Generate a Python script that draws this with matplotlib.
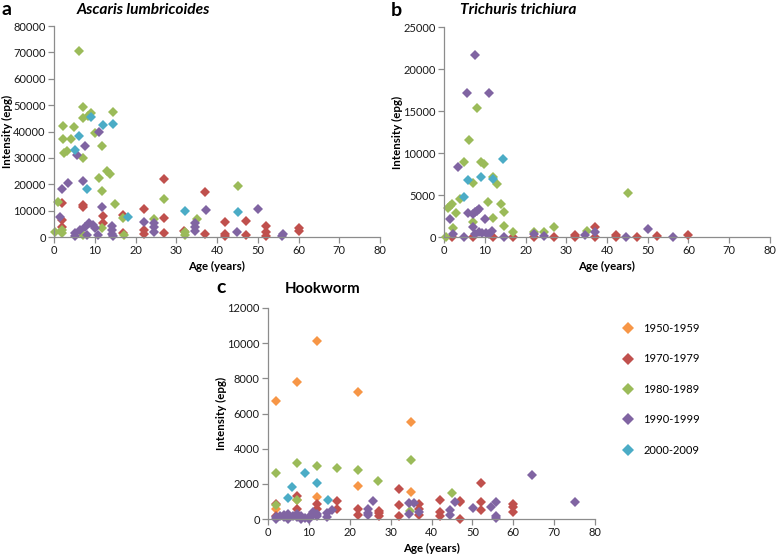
import matplotlib
matplotlib.use("Agg")
import matplotlib.pyplot as plt
from matplotlib.lines import Line2D

plt.rcParams['font.family'] = ['Lato', 'DejaVu Sans']

W, H = 778, 558

# ---------------- data ----------------
decades = ["1950-1959", "1970-1979", "1980-1989", "1990-1999", "2000-2009"]
colors = ["#F79646", "#C0504D", "#9BBB59", "#8064A2", "#4BACC6"]

# Panel a: Ascaris lumbricoides
asc_1970_age = [2, 2, 2, 7, 7, 12, 12, 17, 17, 22, 22, 22, 27, 27, 27, 32, 37, 37, 42, 42, 42, 47, 47, 52, 52, 52, 60, 60]
asc_1970_int = [13000, 6400, 3900, 12100, 11300, 8000, 5400, 8500, 1400, 10600, 2700, 1100, 21900, 7300, 1600, 2300,
                16900, 1100, 5800, 1100, 300, 6200, 600, 4200, 2000, 400, 3300, 2400]
asc_1980_age = [6.1, 7.1, 7.1, 8.3, 9.2, 14.6, 2.1, 4.9, 2.1, 4.1, 2.5, 3.1, 7.0, 11.9, 10.1, 11.1, 13.1, 13.7,
                11.9, 15.0, 1.1, 0.2, 1.9, 17.0, 11.9, 17.2, 7.1, 27.1, 32.2, 32.2, 35.2, 45.2, 24.6, 2.0]
asc_1980_int = [70500, 49100, 45000, 46000, 47000, 47300, 42100, 41800, 37000, 37300, 31700, 32700, 29800, 34500,
                39500, 22200, 25000, 23900, 17600, 12500, 13400, 2000, 2700, 7100, 3300, 800, 600, 14300, 2000,
                600, 6700, 19500, 6800, 1600]
asc_1990_age = [11.1, 7.6, 5.6, 7.0, 3.5, 1.9, 1.5, 11.9, 5.2, 5.2, 6.4, 7.6, 8.7, 9.5, 10.1, 10.9, 8.0,
                14.2, 14.2, 14.2, 14.4, 22.1, 24.6, 24.6, 24.6, 34.6, 34.6, 34.6, 37.2, 44.8, 50.1, 56.3, 56.0]
asc_1990_int = [39900, 34500, 31100, 21200, 20600, 18200, 7500, 11300, 1400, 400, 2700, 3900, 5200, 4500,
                3300, 800, 900, 4200, 2700, 1100, 400, 5600, 5400, 3700, 2000, 5400, 3900, 2400, 10200, 2000,
                10500, 1100, 400]
asc_2000_age = [9.0, 12.1, 14.4, 6.1, 5.2, 8.2, 18.2, 32.2, 45.2]
asc_2000_int = [45400, 42500, 42800, 38300, 33000, 18200, 7700, 10000, 9400]

# Panel b: Trichuris trichiura
tri_1970_age = [1.9, 7.0, 12.0, 17.0, 22.0, 27.0, 32.1, 32.1, 37.1, 37.1, 42.2, 42.2, 47.3, 52.2, 60.0]
tri_1970_int = [0, 0, 0, 0, 0, 40, 240, 0, 1150, 0, 240, 0, 0, 60, 240]
tri_1980_age = [8.2, 6.1, 4.9, 9.0, 9.8, 12.0, 13.1, 7.0, 3.9, 1.0, 1.5, 1.9, 10.9, 13.9, 14.7, 2.9, 12.1,
                7.0, 14.8, 2.1, 17.0, 22.2, 24.6, 27.0, 35.2, 45.1, 0.4]
tri_1980_int = [15300, 11600, 8960, 8960, 8690, 7100, 6270, 6390, 4490, 3400, 3700, 3950, 4200, 3890, 3010,
                2890, 2220, 1820, 1310, 1030, 630, 630, 630, 1150, 750, 5280, 0]
tri_1990_age = [7.6, 5.6, 11.0, 3.5, 1.5, 6.0, 7.1, 7.7, 8.1, 8.6, 10.1, 7.0, 2.1, 4.9, 7.7, 8.5, 9.3, 10.3,
                11.1, 11.8, 14.7, 22.2, 24.5, 34.6, 37.1, 44.7, 50.1, 56.3]
tri_1990_int = [21700, 17200, 17200, 8370, 2100, 2820, 2700, 2950, 3100, 3300, 2100, 1150, 300, 0, 400, 600,
                500, 450, 300, 700, 0, 300, 100, 240, 630, 40, 910, 0]
tri_2000_age = [14.4, 6.0, 9.1, 12.0, 4.9]
tri_2000_int = [9250, 6790, 7100, 6870, 4730]

# Panel c: Hookworm
hook_1950_age = [2.0, 7.0, 12.0, 22.0, 22.0, 35.0, 35.0, 12.0, 7.0, 2.0]
hook_1950_int = [6690, 7790, 10100, 7200, 1880, 5500, 1550, 1270, 1100, 550]
hook_1970_age = [2.0, 2.0, 7.0, 7.0, 12.0, 12.0, 17.0, 17.0, 22.0, 22.0, 27.2, 27.2, 27.2, 32.1, 32.1, 32.1,
                 37.0, 37.0, 37.0, 42.1, 42.1, 42.1, 47.0, 47.0, 47.0, 52.1, 52.1, 52.1, 60.0, 60.0, 60.0]
hook_1970_int = [835, 150, 1300, 550, 835, 570, 1040, 550, 550, 200, 360, 170, 450, 1690, 800, 170,
                 850, 550, 230, 1080, 420, 170, 1040, 950, 0, 2070, 950, 540, 830, 700, 420]
hook_1980_age = [2.0, 7.0, 12.1, 17.0, 21.9, 26.8, 35.0, 44.9, 2.0, 7.0, 34.8]
hook_1980_int = [2640, 3170, 3030, 2880, 2790, 2180, 3340, 1460, 800, 1100, 440]
hook_1990_age = [2.0, 2.0, 3.0, 4.0, 4.0, 5.0, 5.0, 6.0, 7.0, 7.0, 8.0, 8.0, 9.0, 10.0, 10.0, 11.0, 11.0,
                 12.0, 12.0, 14.4, 14.4, 15.6, 24.4, 24.4, 24.4, 25.6, 34.6, 34.6, 35.6, 37.0, 44.5, 44.5,
                 45.7, 50.1, 54.5, 55.9, 55.9, 55.9, 64.5, 75.1]
hook_1990_int = [0, 100, 150, 100, 250, 300, 0, 150, 100, 300, 150, 0, 50, 0, 100, 200, 400, 300, 150, 320,
                 100, 510, 550, 320, 200, 1040, 890, 310, 890, 420, 510, 250, 950, 610, 700, 990, 170, 40,
                 2500, 990]
hook_2000_age = [9.1, 5.9, 12.1, 5.0, 14.6]
hook_2000_int = [2640, 1840, 2030, 1180, 1080]

x_ticks = [0, 10, 20, 30, 40, 50, 60, 70, 80]

# ---------------- figure ----------------
fig = plt.figure(figsize=(W / 100, H / 100), dpi=100)


def px_axes(left, top, right, bottom):
    return fig.add_axes([left / W, 1 - bottom / H, (right - left) / W, (bottom - top) / H])


spine_c = "#8C8C8C"
ms = 4.8


def style(ax, ymax, ystep):
    ax.set_xlim(0, 80)
    ax.set_ylim(0, ymax)
    ax.set_xticks(x_ticks)
    ax.set_yticks(range(0, ymax + 1, ystep))
    for s in ["top", "right"]:
        ax.spines[s].set_visible(False)
    for s in ["left", "bottom"]:
        ax.spines[s].set_color(spine_c)
        ax.spines[s].set_linewidth(0.9)
    ax.tick_params(direction="out", length=4, width=0.9, color=spine_c, labelsize=8.0,
                   labelcolor="#1a1a1a", pad=2)
    ax.set_xlabel("Age (years)", fontsize=8.3, fontweight="bold", labelpad=3)
    ax.set_ylabel("Intensity (epg)", fontsize=8.3, fontweight="bold", va="center")
    ax.yaxis.set_label_coords(-0.142, 0.5)


def pts(ax, x, y, c):
    ax.plot(x, y, linestyle="none", marker="D", markersize=ms, color=c, markeredgewidth=0,
            clip_on=False)


ax_a = px_axes(54, 26, 380, 237)
pts(ax_a, asc_1970_age, asc_1970_int, colors[1])
pts(ax_a, asc_1980_age, asc_1980_int, colors[2])
pts(ax_a, asc_1990_age, asc_1990_int, colors[3])
pts(ax_a, asc_2000_age, asc_2000_int, colors[4])
style(ax_a, 80000, 10000)

ax_b = px_axes(444, 27, 770, 237)
pts(ax_b, tri_1970_age, tri_1970_int, colors[1])
pts(ax_b, tri_1980_age, tri_1980_int, colors[2])
pts(ax_b, tri_1990_age, tri_1990_int, colors[3])
pts(ax_b, tri_2000_age, tri_2000_int, colors[4])
style(ax_b, 25000, 5000)

ax_c = px_axes(268, 308, 595, 519)
pts(ax_c, hook_1950_age, hook_1950_int, colors[0])
pts(ax_c, hook_1970_age, hook_1970_int, colors[1])
pts(ax_c, hook_1980_age, hook_1980_int, colors[2])
pts(ax_c, hook_1990_age, hook_1990_int, colors[3])
pts(ax_c, hook_2000_age, hook_2000_int, colors[4])
style(ax_c, 12000, 2000)

# titles
def ftext(x, y, s, **kw):
    fig.text(x / W, 1 - y / H, s, va="baseline", ha="left", **kw)


ftext(1, 15, "a", fontsize=14, fontweight="bold")
ftext(77, 13.5, "Ascaris lumbricoides", fontsize=11.2, fontweight="bold", style="italic")
ftext(391, 15.5, "b", fontsize=14, fontweight="bold")
ftext(460, 14.5, "Trichuris trichiura", fontsize=11.2, fontweight="bold", style="italic")
ftext(216, 293, "c", fontsize=14, fontweight="bold")
ftext(285, 293, "Hookworm", fontsize=10.8, fontweight="bold")

# legend
handles = [Line2D([], [], linestyle="none", marker="D", markersize=5.8, color=c, markeredgewidth=0)
           for c in colors]
fig.legend(handles, decades, loc="upper left", bbox_to_anchor=(622 / W, 1 - 323 / H),
           frameon=False, fontsize=8.0, handlelength=1.0, handletextpad=0.9,
           labelspacing=1.75, borderpad=0, borderaxespad=0)

fig.savefig("out.png", dpi=100)
